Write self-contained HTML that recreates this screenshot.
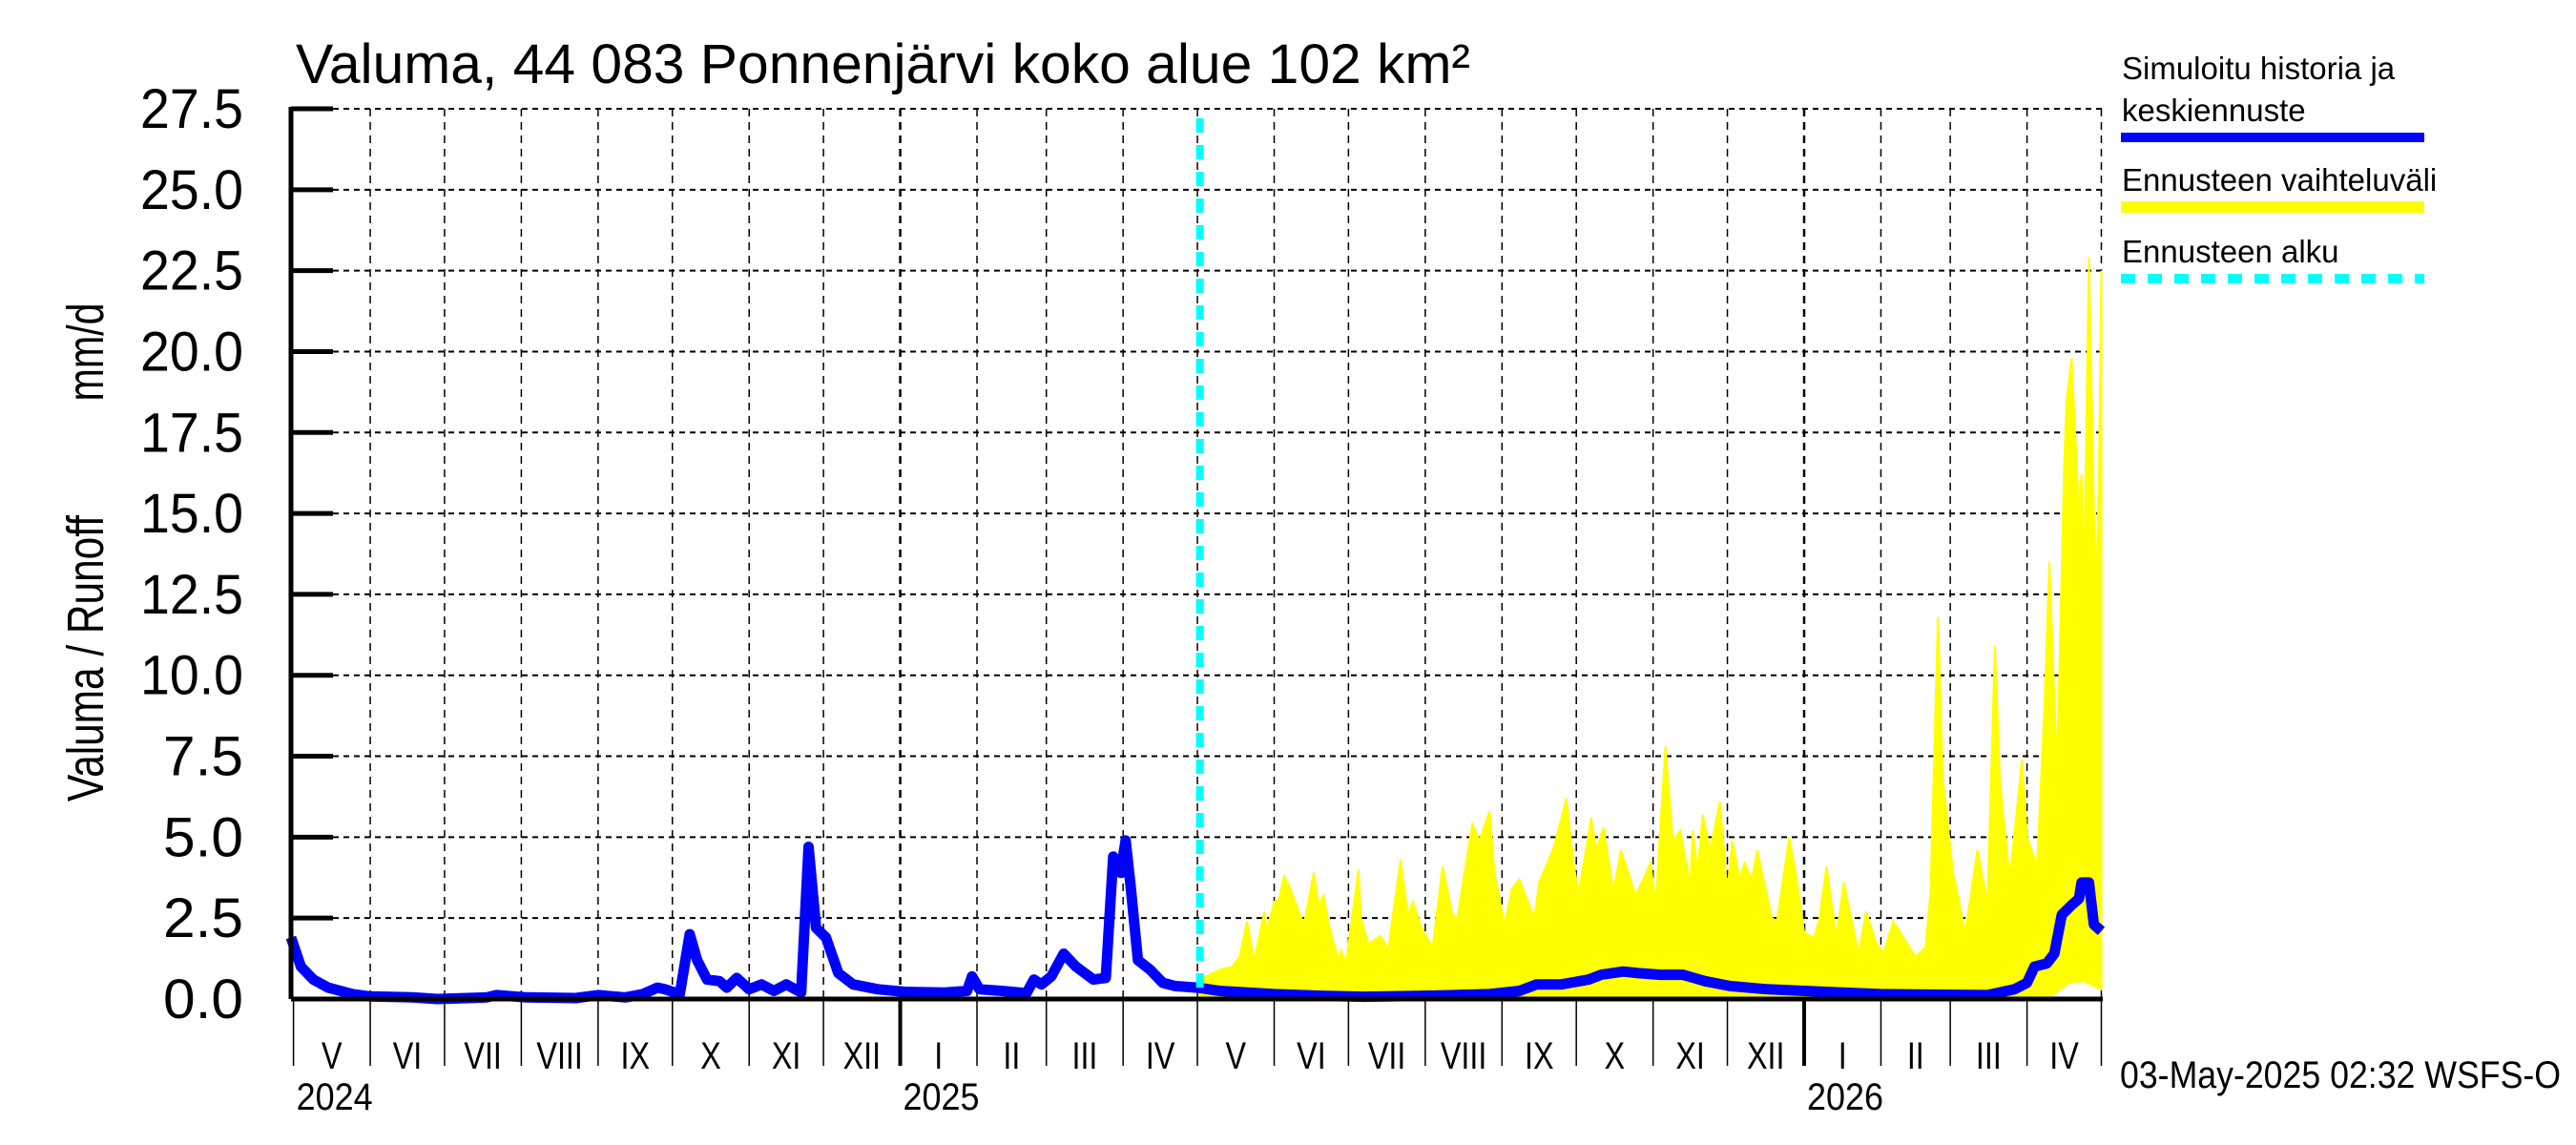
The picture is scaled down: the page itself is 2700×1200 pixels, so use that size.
<!DOCTYPE html>
<html><head><meta charset="utf-8"><style>
html,body{margin:0;padding:0;background:#fff;}
svg{display:block;font-family:"Liberation Sans",sans-serif;}
</style></head><body>
<svg id="chart" width="2700" height="1200" viewBox="0 0 2700 1200" xmlns="http://www.w3.org/2000/svg">
<rect width="2700" height="1200" fill="#fff"/>
<text x="310" y="87" font-size="58" textLength="1231" lengthAdjust="spacingAndGlyphs">Valuma, 44 083 Ponnenjärvi koko alue 102 km²</text>
<g>
<text transform="translate(108,690) rotate(-90)" text-anchor="middle" font-size="54" textLength="300" lengthAdjust="spacingAndGlyphs">Valuma / Runoff</text>
<text transform="translate(108,369) rotate(-90)" text-anchor="middle" font-size="54" textLength="103" lengthAdjust="spacingAndGlyphs">mm/d</text>
</g>
<g id="grid"></g>
<g id="band"></g>
<g id="line"></g>
<g id="axes"></g>
<g>
<text x="2224" y="83" font-size="33">Simuloitu historia ja</text>
<text x="2224" y="127" font-size="33">keskiennuste</text>
<line x1="2223" y1="144" x2="2541" y2="144" stroke="#0000ff" stroke-width="10"/>
<text x="2224" y="200" font-size="33">Ennusteen vaihteluväli</text>
<line x1="2223" y1="217" x2="2541" y2="217" stroke="#ffff00" stroke-width="12"/>
<text x="2224" y="275" font-size="33">Ennusteen alku</text>
<line x1="2223" y1="292" x2="2541" y2="292" stroke="#00ffff" stroke-width="10" stroke-dasharray="15 13"/>
</g>
<text x="2222" y="1140" font-size="40" textLength="462" lengthAdjust="spacingAndGlyphs">03-May-2025 02:32 WSFS-O</text>
</svg>
<script>
const yTicks = [0,2.5,5,7.5,10,12.5,15,17.5,20,22.5,25,27.5];
const yTickLabels = ["0.0","2.5","5.0","7.5","10.0","12.5","15.0","17.5","20.0","22.5","25.0","27.5"];
const monthLabels = ["V","VI","VII","VIII","IX","X","XI","XII","I","II","III","IV","V","VI","VII","VIII","IX","X","XI","XII","I","II","III","IV"];
const yearLabels = ["2024","2025","2026"];
const forecastStart = "2025-05-02";
const meanDates = ["2024-04-30","2024-05-04","2024-05-09","2024-05-15","2024-05-25","2024-06-01","2024-06-18","2024-06-28","2024-07-18","2024-07-22","2024-08-03","2024-08-23","2024-09-01","2024-09-12","2024-09-19","2024-09-25","2024-09-28","2024-10-04","2024-10-08","2024-10-11","2024-10-15","2024-10-20","2024-10-23","2024-10-27","2024-11-01","2024-11-06","2024-11-11","2024-11-16","2024-11-22","2024-11-25","2024-11-28","2024-12-02","2024-12-07","2024-12-13","2024-12-23","2025-01-03","2025-01-19","2025-01-28","2025-01-30","2025-02-02","2025-02-11","2025-02-21","2025-02-24","2025-02-27","2025-03-03","2025-03-08","2025-03-13","2025-03-20","2025-03-25","2025-03-28","2025-03-31","2025-04-02","2025-04-04","2025-04-07","2025-04-12","2025-04-17","2025-04-22","2025-05-01","2025-05-10","2025-06-01","2025-06-20","2025-07-07","2025-08-01","2025-08-27","2025-09-08","2025-09-15","2025-09-25","2025-10-06","2025-10-11","2025-10-20","2025-10-26","2025-11-04","2025-11-13","2025-11-22","2025-12-02","2025-12-17","2026-01-01","2026-02-01","2026-03-16","2026-03-27","2026-04-01","2026-04-04","2026-04-09","2026-04-12","2026-04-15","2026-04-19","2026-04-22","2026-04-23","2026-04-26","2026-04-28","2026-05-01"];
const meanValues = [1.9,1.0,0.6,0.35,0.15,0.08,0.05,0.0,0.05,0.12,0.05,0.03,0.12,0.05,0.15,0.35,0.3,0.15,2.0,1.2,0.6,0.55,0.35,0.65,0.3,0.45,0.25,0.45,0.2,4.7,2.2,1.9,0.8,0.45,0.3,0.22,0.2,0.25,0.7,0.3,0.25,0.18,0.6,0.45,0.7,1.4,1.0,0.6,0.65,4.4,3.9,4.9,3.5,1.2,0.9,0.5,0.4,0.35,0.25,0.15,0.1,0.07,0.1,0.15,0.25,0.45,0.45,0.6,0.75,0.85,0.8,0.75,0.75,0.55,0.4,0.3,0.25,0.15,0.12,0.3,0.5,1.0,1.1,1.4,2.6,2.9,3.1,3.6,3.6,2.3,2.1];
const upperDates = ["2025-05-02","2025-05-10","2025-05-15","2025-05-18","2025-05-21","2025-05-24","2025-05-28","2025-05-29","2025-06-01","2025-06-03","2025-06-05","2025-06-07","2025-06-10","2025-06-13","2025-06-17","2025-06-19","2025-06-21","2025-06-23","2025-06-27","2025-06-28","2025-06-30","2025-07-05","2025-07-06","2025-07-09","2025-07-14","2025-07-17","2025-07-22","2025-07-25","2025-07-27","2025-07-31","2025-08-04","2025-08-08","2025-08-12","2025-08-14","2025-08-16","2025-08-20","2025-08-23","2025-08-27","2025-08-29","2025-09-02","2025-09-05","2025-09-08","2025-09-14","2025-09-16","2025-09-22","2025-09-27","2025-09-30","2025-10-02","2025-10-07","2025-10-09","2025-10-12","2025-10-16","2025-10-19","2025-10-25","2025-10-31","2025-11-02","2025-11-06","2025-11-09","2025-11-12","2025-11-16","2025-11-17","2025-11-19","2025-11-21","2025-11-24","2025-11-28","2025-12-01","2025-12-03","2025-12-06","2025-12-08","2025-12-11","2025-12-13","2025-12-19","2025-12-21","2025-12-26","2025-12-29","2026-01-01","2026-01-05","2026-01-07","2026-01-10","2026-01-14","2026-01-17","2026-01-23","2026-01-26","2026-01-30","2026-02-02","2026-02-06","2026-02-15","2026-02-19","2026-02-21","2026-02-24","2026-02-26","2026-03-02","2026-03-07","2026-03-12","2026-03-16","2026-03-19","2026-03-21","2026-03-25","2026-03-30","2026-04-01","2026-04-05","2026-04-08","2026-04-10","2026-04-13","2026-04-14","2026-04-16","2026-04-17","2026-04-19","2026-04-22","2026-04-23","2026-04-24","2026-04-26","2026-04-28","2026-04-29","2026-04-30","2026-05-01"];
const upperValues = [0.6,0.9,1.0,1.3,2.4,1.2,2.7,2.1,3.0,3.1,3.8,3.5,2.9,2.3,3.9,2.9,3.2,2.3,1.2,1.5,1.1,4.0,2.5,1.7,1.95,1.5,4.3,2.6,3.0,2.1,1.6,4.1,2.6,2.5,3.5,5.4,4.9,5.8,3.9,2.3,3.4,3.7,2.5,3.6,4.7,6.2,4.1,3.3,5.6,4.6,5.3,3.3,4.6,3.2,4.2,2.9,7.8,4.9,5.2,3.5,5.2,3.9,5.7,4.6,6.1,3.3,4.9,3.7,4.2,3.7,4.6,2.5,2.4,5.0,3.7,2.05,1.9,2.4,4.1,1.9,3.6,1.4,2.7,1.75,1.4,2.4,1.3,1.6,3.3,11.8,6.8,4.0,2.05,4.6,3.0,10.9,6.8,3.7,7.4,5.0,4.1,9.0,13.5,7.2,10.0,16.5,18.5,19.8,15.0,16.2,13.0,22.9,15.1,12.8,15.9,22.5];
const lowerDates = ["2025-05-02","2025-10-01","2026-04-10","2026-04-18","2026-04-24","2026-05-01"];
const lowerValues = [0.05,0.05,0.05,0.5,0.55,0.3];

const NS="http://www.w3.org/2000/svg";
const X0=305, X1=2204, Y0=1047, Y1=114, YMAX=27.5;
const T0=Date.UTC(2024,3,30), T1=Date.UTC(2026,4,1,14);
function xScale(s){const t=(typeof s==="string")?Date.parse(s+"T00:00:00Z"):s;return X0+(t-T0)/(T1-T0)*(X1-X0);}
function yScale(v){return Y0-(v/YMAX)*(Y0-Y1);}
function mk(tag,attrs,parent){const e=document.createElementNS(NS,tag);for(const k in attrs)e.setAttribute(k,attrs[k]);parent.appendChild(e);return e;}
const grid=document.getElementById('grid'), band=document.getElementById('band'), line=document.getElementById('line'), axes=document.getElementById('axes');

yTicks.forEach((v,i)=>{
  const y=yScale(v);
  if(v>0){const g=mk('line',{x1:X0,y1:y,x2:X1,y2:y,stroke:'#000','stroke-width':2,'stroke-dasharray':'6 5'},grid);
  
  }
  const t=mk('line',{x1:X0,y1:y,x2:X0+44,y2:y,stroke:'#000','stroke-width':5},axes);
  
  
  const lbl=yTickLabels[i];
  const l=mk('text',{x:255,y:y+20,'text-anchor':'end','font-size':58,textLength:lbl.length===4?108:84,lengthAdjust:'spacingAndGlyphs'},axes);
  l.textContent=lbl;
  
  
});
const monthStarts=[];
for(let k=0;k<=24;k++){monthStarts.push(Date.UTC(2024,4+k,1));}
monthStarts.forEach((t,k)=>{
  const x=xScale(t);
  const isYear=new Date(t).getUTCMonth()===0;
  if(k>0){const g=mk('line',{x1:x,y1:Y1,x2:x,y2:Y0,stroke:'#000','stroke-width':isYear?2.5:1.5,'stroke-dasharray':'8 6'},grid);
  
  }
  const tk=mk('line',{x1:x,y1:Y0,x2:x,y2:1117,stroke:'#000','stroke-width':isYear?4:1.5},axes);
  
  
  if(k<24){const xm=(x+xScale(monthStarts[k+1]))/2;
    const ml=mk('text',{x:xm,y:1120,'text-anchor':'middle','font-size':38,transform:'translate('+xm+',1120) scale(0.85,1.05) translate('+(-xm)+',-1120)'},axes);
    ml.textContent=monthLabels[k];
    
    }
});
[["2024-05-01",0],["2025-01-01",1],["2026-01-01",2]].forEach(([d,i])=>{
  const yl=mk('text',{x:xScale(d)+3,y:1163,'font-size':40,textLength:80,lengthAdjust:'spacingAndGlyphs'},axes);
  yl.textContent=yearLabels[i];
  
  
});
let pts=upperDates.map((d,i)=>xScale(d).toFixed(1)+','+yScale(upperValues[i]).toFixed(1));
for(let i=lowerDates.length-1;i>=0;i--)pts.push(xScale(lowerDates[i]).toFixed(1)+','+yScale(lowerValues[i]).toFixed(1));
const poly=mk('polygon',{points:pts.join(' '),fill:'#ffff00',stroke:'#ffff00','stroke-width':2},band);


const lp=meanDates.map((d,i)=>xScale(d).toFixed(1)+','+yScale(meanValues[i]).toFixed(1)).join(' ');
const pl=mk('polyline',{points:lp,fill:'none',stroke:'#0000ff','stroke-width':11,'stroke-linejoin':'round'},line);


const fx=xScale(forecastStart);
const fl=mk('line',{x1:fx,y1:124,x2:fx,y2:Y0,stroke:'#00ffff','stroke-width':8,'stroke-dasharray':'15 13'},axes);


const ya=mk('line',{x1:X0,y1:Y1-2,x2:X0,y2:Y0,stroke:'#000','stroke-width':5},axes);


const xa=mk('line',{x1:X0,y1:Y0,x2:X1,y2:Y0,stroke:'#000','stroke-width':5},axes);


</script>
</body></html>
